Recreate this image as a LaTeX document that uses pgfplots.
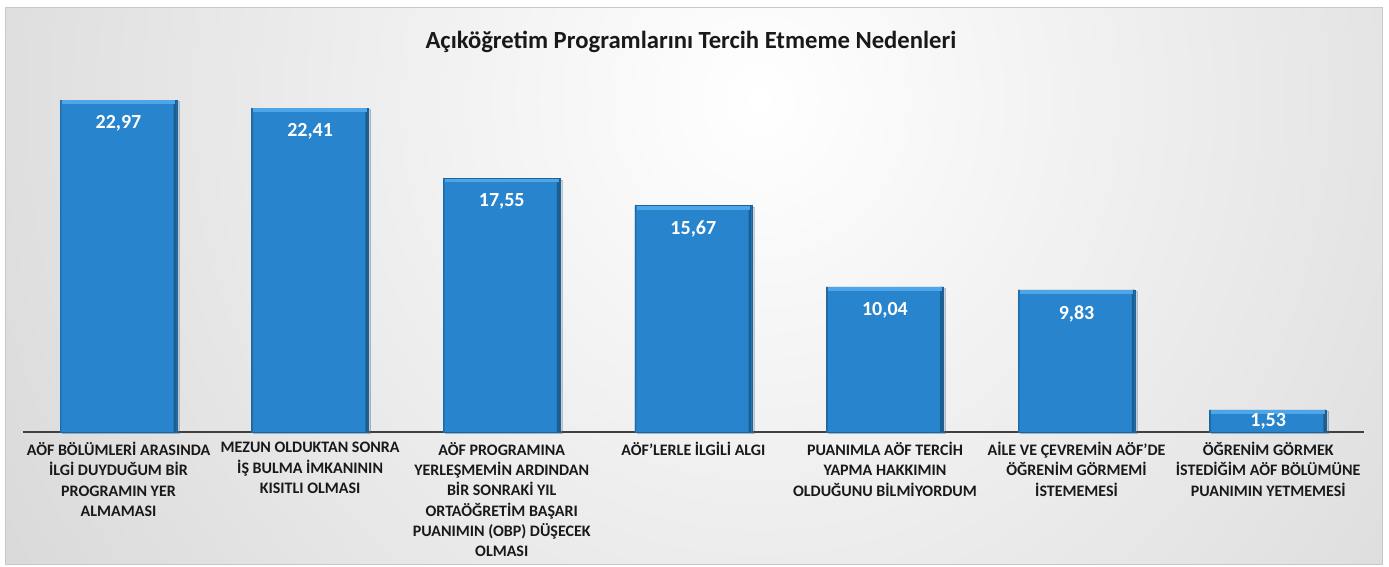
\documentclass[border=0pt]{standalone}
\usepackage{fontspec}
\setmainfont{Carlito}
\usepackage{pgfplots}
\pgfplotsset{compat=1.18}
\usetikzlibrary{shadows}
\definecolor{barblue}{RGB}{39,132,205}
\definecolor{barlight}{RGB}{78,165,232}
\definecolor{bardark}{RGB}{27,94,146}
\definecolor{baredge}{RGB}{30,100,155}
\definecolor{bgedge}{RGB}{194,194,194}
\definecolor{txt}{RGB}{25,25,25}
\pgfplotstableread{
x y
0 22.97
1 22.41
2 17.55
3 15.67
4 10.04
5 9.83
6 1.53
}\bardata
\begin{document}
\begin{tikzpicture}[x=0.75pt,y=0.75pt]
% background
\fill[white] (0,0) rectangle (1389,567);
\begin{scope}
\clip (5,2) rectangle (1382,559);
\fill[bgedge] (5,2) rectangle (1382,559);
\shade[inner color=white, outer color=bgedge] (760,467) ellipse [x radius=1420, y radius=1500];
\end{scope}
\draw[black!22, line width=0.75pt] (5,2) rectangle (1382,559);
% title
\node[font=\bfseries\fontsize{18.5}{22}\selectfont, text=txt] at (691,525) {Açıköğretim Programlarını Tercih Etmeme Nedenleri};
\begin{axis}[
  at={(17.03pt,101.25pt)}, anchor=south west,
  scale only axis, width=1006pt, height=264pt,
  xmin=-0.5, xmax=6.5, ymin=0, ymax=24.36,
  axis x line=bottom, axis y line=none,
  x axis line style={-, draw=black!75, line width=1.5pt},
  xtick={0,...,6}, major tick length=0pt, ytick=\empty,
  xticklabels={
    {AÖF BÖLÜMLERİ ARASINDA\\İLGİ DUYDUĞUM BİR\\PROGRAMIN YER\\ALMAMASI},
    {MEZUN OLDUKTAN SONRA\\İŞ BULMA İMKANININ\\KISITLI OLMASI},
    {AÖF PROGRAMINA\\YERLEŞMEMİN ARDINDAN\\BİR SONRAKİ YIL\\ORTAÖĞRETİM BAŞARI\\PUANIMIN (OBP) DÜŞECEK\\OLMASI},
    {AÖF’LERLE İLGİLİ ALGI},
    {PUANIMLA AÖF TERCİH\\YAPMA HAKKIMIN\\OLDUĞUNU BİLMİYORDUM},
    {AİLE VE ÇEVREMİN AÖF’DE\\ÖĞRENİM GÖRMEMİ\\İSTEMEMESİ},
    {ÖĞRENİM GÖRMEK\\İSTEDİĞİM AÖF BÖLÜMÜNE\\PUANIMIN YETMEMESİ}},
  xticklabel style={font=\bfseries\fontsize{12}{15.2}\selectfont, align=center, anchor=north, text=txt, yshift=-4.2pt},
  clip=false,
]
% bars with shadow
\addplot[ybar, bar width=87.75pt, bar shift=0pt, fill=barblue, draw=baredge, line width=0.5pt,
  drop shadow={shadow xshift=1.5pt, shadow yshift=-1.2pt, opacity=0.3}]
  table[x=x, y=y] {\bardata};
% bevel: right dark band
\addplot[ybar, bar width=2.2pt, bar shift=42.5pt, fill=bardark, draw=none]
  table[x=x, y=y] {\bardata};
% bevel: left slightly darker band
\addplot[ybar, bar width=1pt, bar shift=-43.3pt, fill=bardark!60!barblue, draw=none]
  table[x=x, y=y] {\bardata};
% bevel: top light strip
\addplot[only marks, mark=-, mark size=42.6pt, line width=2.8pt, color=barlight,
  every mark/.append style={yshift=-1.6pt}]
  table[x=x, y=y] {\bardata};
% value labels
\addplot[draw=none, mark=none, nodes near coords={\pgfmathprintnumber[fixed, fixed zerofill, precision=2, use comma, assume math mode=true]{\pgfplotspointmeta}},
  every node near coord/.style={anchor=north, yshift=-8pt, font=\bfseries\fontsize{15}{18}\selectfont, text=white}]
  coordinates {(0,22.97) (1,22.41) (2,17.55) (3,15.67) (4,10.04) (5,9.83)};
\addplot[draw=none, mark=none, nodes near coords={\pgfmathprintnumber[fixed, fixed zerofill, precision=2, use comma, assume math mode=true]{\pgfplotspointmeta}},
  every node near coord/.style={anchor=north, yshift=1pt, font=\bfseries\fontsize{15}{18}\selectfont, text=white}]
  coordinates {(6,1.53)};
\end{axis}
\pgfresetboundingbox
\useasboundingbox (0,0) rectangle (1389,567);
\end{tikzpicture}
\end{document}
